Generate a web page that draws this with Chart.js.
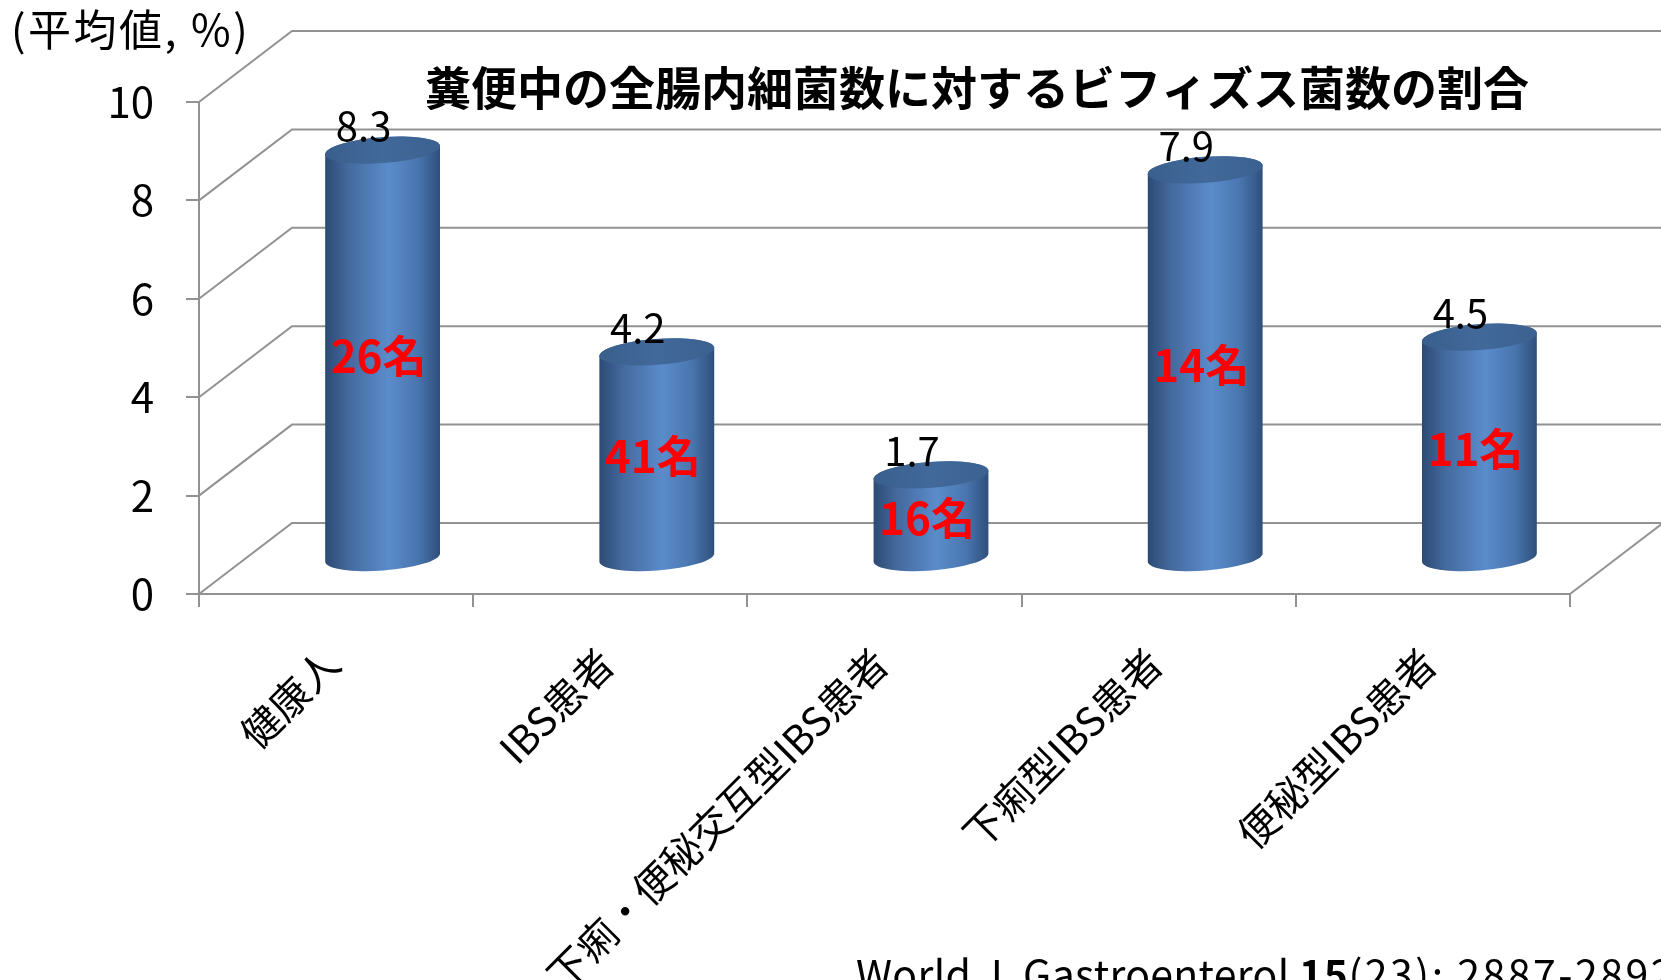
<!DOCTYPE html>
<html lang="ja">
<head>
  <meta charset="UTF-8">
  <title>ビフィズス菌数の割合</title>
  <style>
    html, body {
      margin: 0;
      padding: 0;
      background: #fff;
    }
    #wrap {
      width: 1661px;
      height: 980px;
    }
  </style>
  <script src="https://cdn.jsdelivr.net/npm/chart.js"></script>
</head>
<body>
  <div id="wrap">
    <canvas id="chart" width="1661" height="980"></canvas>
  </div>

  <script>
    const categories = ['健康人', 'IBS患者', '下痢・便秘交互型IBS患者', '下痢型IBS患者', '便秘型IBS患者'];
    const ratios = [8.3, 4.2, 1.7, 7.9, 4.5];
    const subjects = ['26名', '41名', '16名', '14名', '11名'];
    const yTicks = [0, 2, 4, 6, 8, 10];

    const titleText = '糞便中の全腸内細菌数に対するビフィズス菌数の割合';
    const yAxisText = '(平均値, %)';

    const FONT = '"Noto Sans CJK JP", "Noto Sans", sans-serif';
    const GRID = '#929292';
    // offset of the back wall relative to the front plane
    const DEPTH_X = 93;
    const DEPTH_Y = -71;

    // side wall, back wall and floor
    const wallPlugin = {
      id: 'walls',
      beforeDatasetsDraw(chart) {
        const { ctx, chartArea: a, scales: { y } } = chart;
        ctx.save();
        ctx.strokeStyle = GRID;
        ctx.lineWidth = 2;
        yTicks.forEach(v => {
          const py = y.getPixelForValue(v);
          ctx.beginPath();
          ctx.moveTo(a.left, py);
          ctx.lineTo(a.left + DEPTH_X, py + DEPTH_Y);
          ctx.lineTo(a.right + DEPTH_X, py + DEPTH_Y);
          ctx.stroke();
        });
        const p0 = y.getPixelForValue(0);
        ctx.beginPath();
        ctx.moveTo(a.right, p0);
        ctx.lineTo(a.right + DEPTH_X, p0 + DEPTH_Y);
        ctx.stroke();
        ctx.restore();
      }
    };

    // bars are drawn as cylinders half way into the depth
    const cylinderPlugin = {
      id: 'cylinders',
      afterDatasetsDraw(chart) {
        const { ctx } = chart;
        const meta = chart.getDatasetMeta(0);
        const tilt = -0.075;
        meta.data.forEach((bar, i) => {
          const cx = bar.x + DEPTH_X / 2;
          const top = bar.y + DEPTH_Y / 2;
          const base = bar.base + DEPTH_Y / 2;
          const rx = bar.width / 2;
          const ry = 13;

          const body = ctx.createLinearGradient(cx - rx, 0, cx + rx, 0);
          body.addColorStop(0, '#2c4a74');
          body.addColorStop(0.2, '#44699d');
          body.addColorStop(0.55, '#5a8ccb');
          body.addColorStop(0.8, '#4a76af');
          body.addColorStop(1, '#2f4f7b');

          ctx.save();
          ctx.beginPath();
          ctx.ellipse(cx, base, rx, ry, tilt, 0, Math.PI, false);
          ctx.ellipse(cx, top, rx, ry, tilt, Math.PI, Math.PI * 2, false);
          ctx.closePath();
          ctx.fillStyle = body;
          ctx.fill();

          const cap = ctx.createLinearGradient(cx - rx, top, cx + rx, top);
          cap.addColorStop(0, '#3a5f8d');
          cap.addColorStop(0.5, '#41699a');
          cap.addColorStop(1, '#3b6190');
          ctx.beginPath();
          ctx.ellipse(cx, top, rx, ry, tilt, 0, Math.PI * 2);
          ctx.fillStyle = cap;
          ctx.fill();

          // value above the cylinder
          ctx.fillStyle = '#000';
          ctx.font = '40px ' + FONT;
          ctx.textAlign = 'center';
          ctx.textBaseline = 'middle';
          ctx.fillText(String(ratios[i]), cx - 19, top - 24);

          // number of subjects inside the cylinder
          ctx.fillStyle = '#ff0000';
          ctx.font = 'bold 44px ' + FONT;
          ctx.fillText(subjects[i], cx - 4, (top + base) / 2 + 2);
          ctx.restore();
        });
      }
    };

    // title, unit label and reference line
    const textPlugin = {
      id: 'texts',
      afterDraw(chart) {
        const { ctx } = chart;
        ctx.save();
        ctx.fillStyle = '#000';
        ctx.textBaseline = 'middle';

        ctx.font = 'bold 46px ' + FONT;
        ctx.textAlign = 'center';
        ctx.fillText(titleText, 977, 88);

        ctx.font = '43px ' + FONT;
        ctx.textAlign = 'left';
        ctx.letterSpacing = '2.5px';
        ctx.fillText(yAxisText, 11, 30);

        ctx.textBaseline = 'alphabetic';
        let x = 856;
        const parts = [
          ['World J. Gastroenterol ', '', '0.3px'],
          ['15', 'bold ', '0.5px'],
          ['(23): 2887-2892', '', '2.5px']
        ];
        parts.forEach(([t, w, sp]) => {
          ctx.font = w + '41px ' + FONT;
          ctx.letterSpacing = sp;
          ctx.fillText(t, x, 990);
          x += ctx.measureText(t).width;
        });
        ctx.restore();
      }
    };

    new Chart(document.getElementById('chart'), {
      type: 'bar',
      data: {
        labels: categories,
        datasets: [{
          data: ratios,
          backgroundColor: 'rgba(0,0,0,0)',
          borderWidth: 0,
          categoryPercentage: 1,
          barPercentage: 0.42
        }]
      },
      options: {
        responsive: false,
        animation: false,
        layout: {
          padding: { top: 102, right: 91, bottom: 0, left: 0 }
        },
        plugins: {
          legend: { display: false },
          tooltip: { enabled: false },
          title: { display: false }
        },
        scales: {
          x: {
            afterFit(scale) { scale.height = 386; },
            grid: {
              drawOnChartArea: false,
              drawTicks: true,
              tickLength: 13,
              color: GRID,
              lineWidth: 2
            },
            border: { display: true, color: GRID, width: 2 },
            ticks: {
              minRotation: 45,
              maxRotation: 45,
              autoSkip: false,
              padding: 32,
              labelOffset: -4,
              color: '#000',
              font: { family: FONT, size: 40 }
            }
          },
          y: {
            min: 0,
            max: 10,
            afterFit(scale) { scale.width = 199; },
            afterBuildTicks(scale) {
              scale.ticks = yTicks.map(v => ({ value: v }));
            },
            grid: {
              drawOnChartArea: false,
              drawTicks: true,
              tickLength: 13,
              color: GRID,
              lineWidth: 2
            },
            border: { display: true, color: GRID, width: 2 },
            ticks: {
              padding: 32,
              color: '#000',
              font: { family: FONT, size: 42 }
            }
          }
        }
      },
      plugins: [wallPlugin, cylinderPlugin, textPlugin]
    });
  </script>
</body>
</html>
